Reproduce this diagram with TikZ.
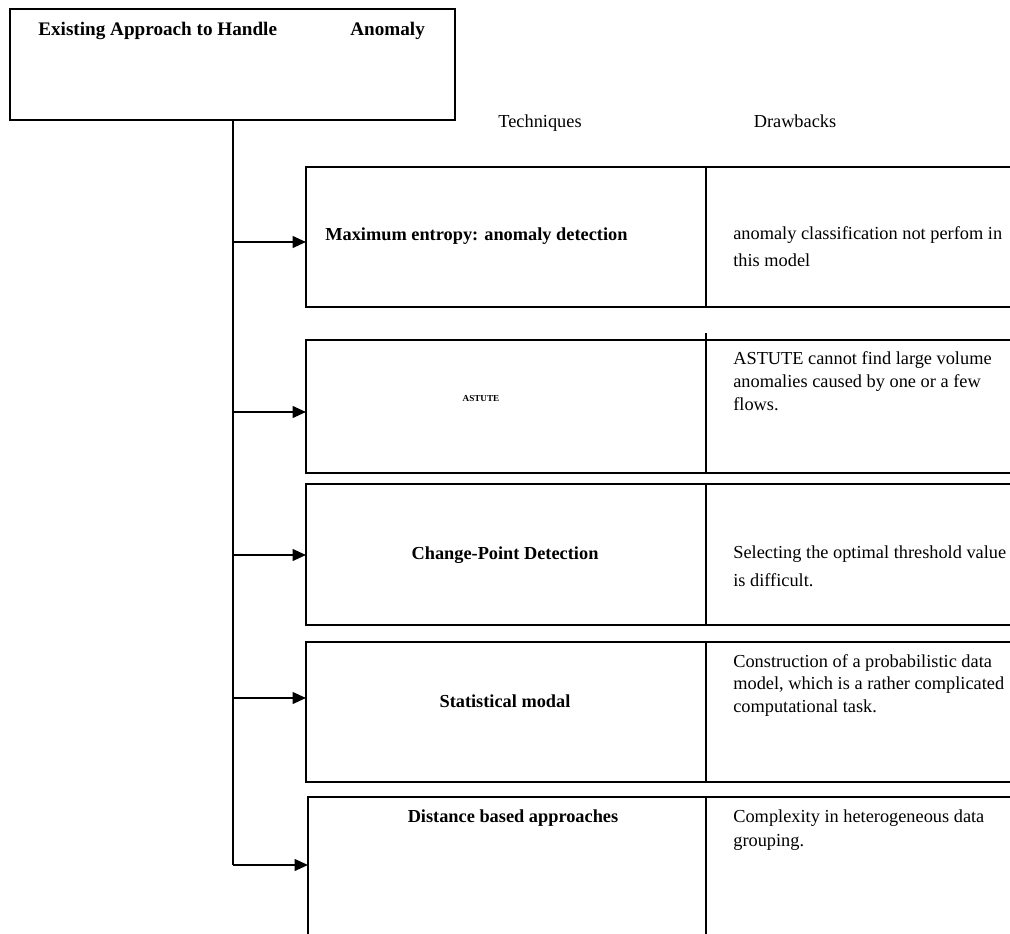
\documentclass[tikz,border=0pt]{standalone}
\usepackage{fontspec}
\setmainfont{Liberation Serif}
\usetikzlibrary{arrows.meta, positioning}
\tikzstyle{headbox} = [rectangle, draw=black, line width=1.2pt, outer sep=0pt, minimum width=267pt, minimum height=66.6pt]
\tikzstyle{techbox} = [rectangle, draw=black, line width=1.2pt, outer sep=0pt, minimum width=240pt, minimum height=84pt]
\tikzstyle{drawbox} = [rectangle, draw=black, line width=1.2pt, outer sep=0pt, minimum width=198pt, minimum height=84pt]
\tikzstyle{title} = [inner sep=0pt, font=\fontsize{11.5}{14}\selectfont\bfseries]
\tikzstyle{tech} = [inner sep=0pt, font=\fontsize{11}{13.5}\selectfont\bfseries]
\tikzstyle{plain} = [inner sep=0pt, font=\fontsize{11}{13.5}\selectfont]
\tikzstyle{note} = [inner sep=0pt, anchor=base west, font=\fontsize{11}{13.5}\selectfont]
\tikzstyle{line} = [line width=1.2pt]
\tikzstyle{arrow} = [line width=1.2pt, -{Triangle[length=8pt,width=7pt]}]

\begin{document}
\begin{tikzpicture}[x=0.6pt, y=-0.6pt]
\useasboundingbox (0,0) rectangle (1010,934);
\clip (0,0) rectangle (1010,934);

% Root box
\node (approach) [headbox] at (232.5,64.5) {};
\node (approachtitle) [title, anchor=base west] at (38,36) {Existing Approach to Handle};
\node (anomalytitle) [title, anchor=base west] at (350,36) {Anomaly};

% Column headings
\node (techhead) [plain, anchor=base] at (540,128) {Techniques};
\node (drawhead) [plain, anchor=base] at (795,128) {Drawbacks};

% Technique boxes
\node (maxent) [techbox] at (506,237) {};
\node (astute) [techbox, minimum height=79.8pt] at (506,406.5) {};
\node (changept) [techbox, minimum height=84.6pt] at (506,554.5) {};
\node (statmod) [techbox] at (506,712) {};
\node (distance) [techbox, minimum width=238.8pt] at (507,867) {};

% Drawback boxes
\node (maxentdraw) [drawbox, right=0pt of maxent] {};
\node (astutedraw) [drawbox, minimum height=79.8pt, right=0pt of astute] {};
\node (changeptdraw) [drawbox, minimum height=84.6pt, right=0pt of changept] {};
\node (statmoddraw) [drawbox, right=0pt of statmod] {};
\node (distancedraw) [drawbox, right=0pt of distance] {};
\draw [line] (astutedraw.north west) -- ++(0,-7);

% Technique names
\node (maxentlabel) [tech, anchor=base west] at (325,240) {Maximum entropy: anomaly detection};
\node (astutelabel) [inner sep=0pt, anchor=base, font=\fontsize{5.5}{6}\selectfont\bfseries] at (481,401) {ASTUTE};
\node (changeptlabel) [tech, anchor=base] at (505,559) {Change-Point Detection};
\node (statmodlabel) [tech, anchor=base] at (505,707) {Statistical modal};
\node (distancelabel) [tech, anchor=base] at (513,822) {Distance based approaches};

% Drawback notes
\node (maxentnote) [note] at (733,239) {\parbox[t]{200pt}{\baselineskip=16.5pt anomaly classification not perfom in\\this model}};
\node (astutenote) [note] at (733,364) {\parbox[t]{200pt}{\baselineskip=14pt ASTUTE cannot find large volume\\anomalies caused by one or a few\\flows.}};
\node (changeptnote) [note] at (733,558) {\parbox[t]{200pt}{\baselineskip=16.8pt Selecting the optimal threshold value\\is difficult.}};
\node (statmodnote) [note] at (733,667) {\parbox[t]{200pt}{\baselineskip=13.5pt Construction of a probabilistic data\\model, which is a rather complicated\\computational task.}};
\node (distancenote) [note] at (733,822) {\parbox[t]{200pt}{\baselineskip=14.4pt Complexity in heterogeneous data\\grouping.}};

% Trunk and arrows
\coordinate (b1) at (232.5,242);
\coordinate (b2) at (232.5,412);
\coordinate (b3) at (232.5,555);
\coordinate (b4) at (232.5,698);
\coordinate (b5) at (232.5,865);
\draw [line] (approach.south) -- (b5);
\draw [arrow] (b1) -- (b1 -| maxent.west);
\draw [arrow] (b2) -- (b2 -| astute.west);
\draw [arrow] (b3) -- (b3 -| changept.west);
\draw [arrow] (b4) -- (b4 -| statmod.west);
\draw [arrow] (b5) -- (b5 -| distance.west);

\end{tikzpicture}
\end{document}
